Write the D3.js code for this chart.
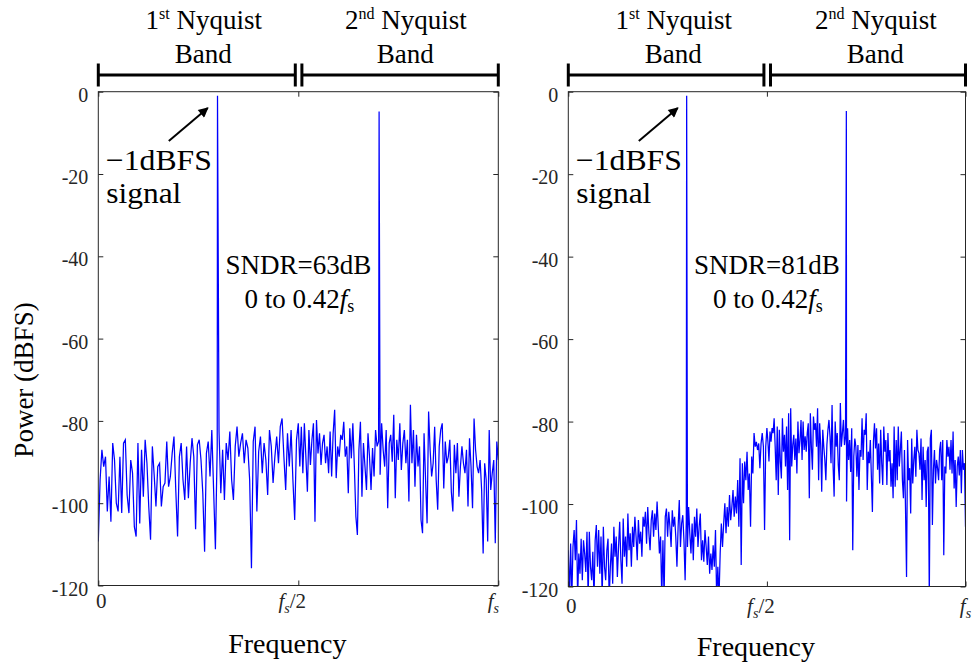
<!DOCTYPE html>
<html>
<head>
<meta charset="utf-8">
<script src="https://cdn.jsdelivr.net/npm/d3@7"></script>
<style>
  html, body { margin: 0; padding: 0; background: #fff; }
  svg { display: block; }
  text { font-family: "Liberation Serif", "Times New Roman", serif; }
</style>
</head>
<body>
<svg id="chart" width="977" height="667"></svg>
<script>
// ---------------- data ----------------
// Normalised frequency axis: 0 .. fs (0 .. 1)
const xTicks = [0, 0.5, 1];
const yTicks = [0, -20, -40, -60, -80, -100, -120];

// Tones: fundamental (-1 dBFS) and its image in the 2nd Nyquist band
const toneFreqLeft = [0.298, 0.702];
const tonePowerLeft = [-1, -4.8];
const toneFreqRight = [0.298, 0.70];
const tonePowerRight = [-1, -4.7];

const sndrText = ["SNDR=63dB", "SNDR=81dB"];

// Left panel noise floor, 1st Nyquist band (0 .. fs/2), dBFS
const noiseLeftLow = [
  -109.3,-94.3,-87.0,-91.1,-88.7,-102.0,-93.5,-104.5,-85.4,-89.5,
  -100.0,-102.0,-88.7,-102.4,-85.4,-84.6,-98.0,-102.4,-89.5,-92.7,
  -105.7,-108.1,-85.4,-104.9,-87.0,-98.4,-84.6,-90.3,-100.8,-108.9,
  -86.2,-93.1,-100.8,-91.1,-90.3,-100.8,-96.0,-95.1,-85.0,-96.0,
  -93.5,-87.9,-83.8,-96.8,-108.1,-88.7,-85.4,-94.3,-99.2,-86.2,
  -98.8,-90.3,-84.2,-88.7,-106.3,-85.8,-84.6,-89.5,-97.6,-111.8,
  -87.9,-85.0,-93.5,-82.2,-96.8,-111.2,-86.2,-82.6,-97.6,-87.0,
  -99.2,-85.4,-89.5,-82.6,-94.3,-99.2,-86.2,-81.4,-88.7,-85.4,
  -83.0,-90.3,-84.6,-86.6,-94.3,-115.8,-85.0,-81.4,-102.0,-87.5,
  -83.8,-92.7,-85.4,-89.5,-98.0,-82.2,-86.2,-95.1,-88.7,-83.8,
  -90.3,-81.4,-79.4,-88.7,-96.8,-83.0,-91.1,-82.2,-94.3,-104.1,
  -84.6,-80.6
];
// Left panel noise floor, 2nd Nyquist band (fs/2 .. fs)
const noiseLeftHigh = [
  -91.1,-81.4,-92.7,-80.6,-88.7,-97.2,-82.2,-90.7,-84.6,-80.6,
  -104.5,-79.8,-87.9,-83.0,-90.7,-85.4,-83.4,-90.3,-86.2,-92.7,
  -82.6,-93.5,-83.0,-77.3,-93.9,-86.2,-88.7,-83.4,-84.6,-80.2,
  -88.7,-86.2,-97.6,-81.8,-89.1,-80.6,-91.1,-103.2,-107.7,-87.0,
  -80.2,-98.4,-85.4,-91.1,-96.8,-83.0,-88.7,-96.8,-86.6,-93.5,
  -82.2,-86.2,-85.0,-93.1,-80.6,-87.0,-91.1,-82.2,-101.2,-85.4,
  -83.4,-89.9,-78.5,-98.8,-84.6,-89.5,-80.6,-91.9,-85.4,-82.2,
  -90.3,-84.6,-99.6,-76.1,-90.3,-82.2,-96.0,-83.4,-91.1,-86.2,
  -104.1,-107.3,-83.0,-94.3,-104.9,-77.7,-87.0,-93.5,-90.3,-81.4,
  -94.3,-101.6,-86.2,-82.2,-80.6,-96.4,-85.0,-90.3,-88.7,-84.6,
  -97.2,-102.0,-85.8,-92.7,-85.4,-98.4,-91.1,-86.2,-90.3,-92.7,
  -87.0,-100.8,-84.2,-91.1,-101.2,-79.4,-87.0,-91.1,-92.7,-89.5,
  -96.8,-112.2,-90.3,-94.3,-109.3,-82.2,-96.8,-92.7,-89.5,-109.7,
  -85.0,-89.5
];
// Right panel noise floor, 1st Nyquist band (shaped)
const noiseRightLow = [
  -111.2,-123,-109.6,-123,-110.4,-106.3,-113.6,-103.9,-123,-112.0,
  -116.9,-108.4,-118.5,-108.8,-112.0,-116.5,-106.7,-123,-106.7,-115.2,
  -118.5,-111.6,-123,-108.8,-105.1,-115.2,-106.3,-116.9,-107.9,-123,
  -105.5,-115.2,-118.5,-111.2,-108.4,-123,-115.2,-109.6,-119.3,-105.5,
  -112.8,-107.9,-117.7,-110.4,-104.3,-113.6,-119.3,-103.5,-112.8,-107.9,
  -115.2,-102.3,-111.2,-107.1,-115.2,-105.5,-110.4,-103.1,-107.9,-113.6,
  -103.9,-109.6,-106.7,-112.8,-103.1,-105.5,-101.9,-109.6,-100.7,-107.1,
  -111.2,-103.9,-101.5,-107.9,-102.3,-106.3,-99.4,-105.5,-112.0,-107.9,
  -123,-108.8,-123,-103.1,-101.1,-107.9,-101.9,-105.5,-110.4,-101.5,
  -105.5,-103.1,-107.9,-115.2,-105.5,-99.0,-110.4,-104.7,-102.7,-108.8,
  -118.5,
  -103.9,-110.4,-100.7,-107.1,-112.0,-104.7,-113.6,-103.1,-107.9,
  -101.1,-110.4,-105.5,-102.3,-113.6,-108.8,-114.0,-106.3,-110.4,-114.8,
  -107.9,-116.9,-112.0,-116.0,-110.0,-115.2,-106.3,-123,-115.2,-123,
  -112.0,-104.7,-110.4,-104.7,-99.8,-107.1,-100.7,-105.5,-97.8,-103.9,
  -100.7,-96.6,-103.1,-98.2,-102.3,-94.2,-105.5,-88.9,-114.8,-90.1,
  -99.8,-89.7,-94.2,-87.3,-96.6,-92.6,-105.5,-88.5,-92.6,-82.8,
  -86.1,-84.9,-86.9,-85.3,-91.3,-85.3,-82.8,-86.1,-106.3,-86.1,
  -81.6
];
// Right panel noise floor, 2nd Nyquist band
const noiseRightHigh = [
  -84.9,-89.7,-82.4,-84.9,-81.6,-82.8,-79.2,-86.1,-94.2,-81.2,
  -97.8,-82.0,-89.7,-93.8,-79.2,-87.3,-83.2,-90.9,-81.2,-96.6,
  -78.0,-108.8,-76.8,-90.9,-85.7,-83.2,-89.3,-84.1,-92.6,-80.0,
  -87.7,-84.5,-79.6,-89.3,-80.0,-86.9,-83.6,-87.3,-82.8,-80.4,
  -98.6,-78.0,-86.1,-91.7,-78.8,-82.0,-80.4,-86.1,-76.8,-94.2,
  -80.4,-85.7,-97.0,-82.0,-86.1,-89.3,-94.2,-85.7,-82.0,-79.6,
  -83.6,-90.1,-76.0,-90.9,-98.2,-80.0,-86.1,-82.8,-90.5,-94.2,
  -75.5,-86.1,-82.8,-79.6,
  -85.7,-83.6,-99.4,-81.6,-89.3,-84.5,
  -92.2,-81.6,-111.2,-88.5,-84.1,-86.1,-93.4,-85.7,-96.6,-86.9,
  -88.5,-79.2,-89.3,-82.0,-83.2,-78.0,-96.6,-87.3,-90.1,-84.5,
  -93.4,-101.9,-84.9,-80.4,-86.5,-81.6,-91.7,-85.3,-95.0,-82.0,
  -90.1,-95.4,-81.2,-87.3,-84.5,-95.4,-82.8,-89.7,-86.9,-95.8,
  -90.1,-98.6,-81.2,-95.8,-84.5,-94.2,-81.2,-90.9,-86.9,-82.4,
  -94.2,-98.6,-86.9,-101.1,-117.7,-84.5,-94.2,-91.3,-102.3,-84.1,
  -95.0,-89.3,-86.1,-93.4,-82.0,-86.9,-87.7,-91.7,-84.1,-99.0,
  -86.1,-94.2,-89.3,-100.7,-87.3,-86.1,-123,-84.1,-82.0,-105.1,
  -91.7,-86.9,-95.0,-89.3,-91.3,-94.2,-86.9,-84.9,-94.2,-84.5,
  -112.4,-90.9,-92.6,-84.5,-88.5,-86.1,-91.7,-84.5,-92.6,-82.4,
  -96.2,-89.3,-100.7,-90.9,-88.5,-93.1,-86.9,-97.4,-86.9,-91.7,
  -90.1,-105.5
];

// ---------------- drawing ----------------
const svg = d3.select("#chart");
const FONT = '"Liberation Serif", "Times New Roman", serif';
const AXC = "#262626";

const defs = svg.append("defs");
defs.append("marker")
  .attr("id", "arrowhead")
  .attr("viewBox", "0 0 10 10")
  .attr("refX", 9).attr("refY", 5)
  .attr("markerWidth", 11).attr("markerHeight", 10)
  .attr("markerUnits", "userSpaceOnUse")
  .attr("orient", "auto")
  .append("path").attr("d", "M0,0 L10,5 L0,10 z").attr("fill", "#000");

const panels = [
  { x0: 98.3, x1: 498.3, y0: 91.7, y1: 585.5,
    low: noiseLeftLow, high: noiseLeftHigh, tf: toneFreqLeft, tp: tonePowerLeft,
    sndr: sndrText[0], xlBase: 608, freqBase: 653, fsOff: -5 },
  { x0: 568.3, x1: 965.5, y0: 91.7, y1: 586.5,
    low: noiseRightLow, high: noiseRightHigh, tf: toneFreqRight, tp: tonePowerRight,
    sndr: sndrText[1], xlBase: 613, freqBase: 656, fsOff: 0 }
];

function buildPoints(low, high, tf, tp) {
  const pts = [];
  low.forEach((v, i) => pts.push({ f: i / (low.length - 1) * 0.5, p: v }));
  high.forEach((v, i) => pts.push({ f: 0.5 + (i + 1) / high.length * 0.5, p: v }));
  tf.forEach((f, i) => pts.push({ f: f, p: tp[i] }));
  pts.sort((a, b) => a.f - b.f);
  return pts;
}

panels.forEach((P, idx) => {
  const x = d3.scaleLinear().domain([0, 1]).range([P.x0, P.x1]);
  const y = d3.scaleLinear().domain([-120, 0]).range([P.y1, P.y0]);
  const g = svg.append("g");

  const clipId = "clip" + idx;
  defs.append("clipPath").attr("id", clipId)
    .append("rect").attr("x", P.x0).attr("y", P.y0)
    .attr("width", P.x1 - P.x0).attr("height", P.y1 - P.y0);

  // data line
  const pts = buildPoints(P.low, P.high, P.tf, P.tp);
  g.append("path")
    .datum(pts)
    .attr("clip-path", `url(#${clipId})`)
    .attr("fill", "none")
    .attr("stroke", "#0000ff")
    .attr("stroke-width", 1.25)
    .attr("stroke-linejoin", "miter")
    .attr("d", d3.line().x(d => x(d.f)).y(d => y(d.p)));

  // box
  g.append("rect")
    .attr("x", P.x0).attr("y", P.y0)
    .attr("width", P.x1 - P.x0).attr("height", P.y1 - P.y0)
    .attr("fill", "none").attr("stroke", AXC).attr("stroke-width", 1);

  // axes (ticks inward)
  const yl = g.append("g").attr("transform", `translate(${P.x0},0)`)
    .call(d3.axisLeft(y).tickValues(yTicks).tickSizeInner(-5).tickSizeOuter(0)
      .tickPadding(10).tickFormat(d => String(d)));
  yl.select(".domain").remove();
  yl.selectAll("line").attr("stroke", AXC);
  yl.selectAll("text").attr("font-family", FONT).attr("font-size", 20)
    .attr("fill", AXC).attr("dy", "0.48em");

  const yr = g.append("g").attr("transform", `translate(${P.x1},0)`)
    .call(d3.axisRight(y).tickValues(yTicks).tickSizeInner(-5).tickSizeOuter(0).tickFormat(""));
  yr.select(".domain").remove();
  yr.selectAll("line").attr("stroke", AXC);

  const xb = g.append("g").attr("transform", `translate(0,${P.y1})`)
    .call(d3.axisBottom(x).tickValues(xTicks).tickSizeInner(-5).tickSizeOuter(0).tickFormat(""));
  xb.select(".domain").remove();
  xb.selectAll("line").attr("stroke", AXC);
  const xt = g.append("g").attr("transform", `translate(0,${P.y0})`)
    .call(d3.axisTop(x).tickValues(xTicks).tickSizeInner(-5).tickSizeOuter(0).tickFormat(""));
  xt.select(".domain").remove();
  xt.selectAll("line").attr("stroke", AXC);

  // x tick labels
  const xl = g.append("g").attr("font-family", FONT).attr("fill", AXC);
  xl.append("text").attr("x", x(0) + 3).attr("y", P.xlBase)
    .attr("text-anchor", "middle").attr("font-size", 21).text("0");
  const t2 = xl.append("text").attr("x", x(0.5) - 6).attr("y", P.xlBase)
    .attr("text-anchor", "middle").attr("font-size", 21);
  t2.append("tspan").attr("font-style", "italic").text("f");
  t2.append("tspan").attr("font-style", "italic").attr("font-size", 14).attr("dy", 5).text("s");
  t2.append("tspan").attr("dy", -5).text("/2");
  const t3 = xl.append("text").attr("x", x(1) + P.fsOff).attr("y", P.xlBase)
    .attr("text-anchor", "middle").attr("font-size", 21);
  t3.append("tspan").attr("font-style", "italic").text("f");
  t3.append("tspan").attr("font-style", "italic").attr("font-size", 14).attr("dy", 5).text("s");

  // x axis title
  g.append("text").attr("x", x(0.5) - 11).attr("y", P.freqBase)
    .attr("text-anchor", "middle").attr("font-family", FONT).attr("font-size", 28)
    .attr("fill", "#000").text("Frequency");

  // Nyquist band brackets
  const bw = P.x1 - P.x0;
  const brackets = [[P.x0, P.x0 + 0.4925 * bw], [P.x0 + 0.509 * bw, P.x1]];
  const by = 75;
  brackets.forEach(([a, b]) => {
    g.append("line").attr("x1", a).attr("x2", b).attr("y1", by).attr("y2", by)
      .attr("stroke", "#000").attr("stroke-width", 3);
    [a, b].forEach(cx => g.append("line").attr("x1", cx).attr("x2", cx)
      .attr("y1", by - 11.5).attr("y2", by + 11.5)
      .attr("stroke", "#000").attr("stroke-width", 3));
  });

  const bandLabels = [["1", "st", P.x0 + 105.5], ["2", "nd", P.x0 + 307.5]];
  bandLabels.forEach(([n, sup, cx]) => {
    const t = g.append("text").attr("x", cx).attr("y", 29)
      .attr("text-anchor", "middle").attr("font-family", FONT)
      .attr("font-size", 27).attr("fill", "#000");
    t.append("tspan").text(n);
    t.append("tspan").attr("font-size", 16).attr("dy", -10).text(sup);
    t.append("tspan").attr("dy", 10).text(" Nyquist");
    g.append("text").attr("x", cx - 0.5).attr("y", 63)
      .attr("text-anchor", "middle").attr("font-family", FONT)
      .attr("font-size", 27).attr("fill", "#000").text("Band");
  });

  // annotations
  g.append("line")
    .attr("x1", P.x0 + 70.5).attr("y1", 141)
    .attr("x2", P.x0 + 109.5).attr("y2", 108)
    .attr("stroke", "#000").attr("stroke-width", 2)
    .attr("marker-end", "url(#arrowhead)");
  g.append("text").attr("x", P.x0 + 7.5).attr("y", 169.5)
    .attr("font-family", FONT).attr("font-size", 29.5).attr("fill", "#000")
    .attr("textLength", 106).attr("lengthAdjust", "spacingAndGlyphs")
    .text("\u22121dBFS");
  g.append("text").attr("x", P.x0 + 8).attr("y", 202.5)
    .attr("font-family", FONT).attr("font-size", 29.5).attr("fill", "#000")
    .attr("textLength", 75).attr("lengthAdjust", "spacingAndGlyphs")
    .text("signal");

  const ann = g.append("text").attr("y", 274)
    .attr("text-anchor", "middle").attr("font-family", FONT)
    .attr("font-size", 27).attr("fill", "#000");
  ann.append("tspan").attr("x", x(0.5)).text(P.sndr);
  ann.append("tspan").attr("x", x(0.5) + 1).attr("dy", 34).text("0 to 0.42");
  ann.append("tspan").attr("font-style", "italic").text("f");
  ann.append("tspan").attr("font-size", 18).attr("dy", 4).text("s");
});

// y axis title (left panel only)
svg.append("text")
  .attr("transform", "translate(33,380) rotate(-90)")
  .attr("text-anchor", "middle").attr("font-family", FONT)
  .attr("font-size", 27).attr("fill", "#000").text("Power (dBFS)");
</script>
</body>
</html>
